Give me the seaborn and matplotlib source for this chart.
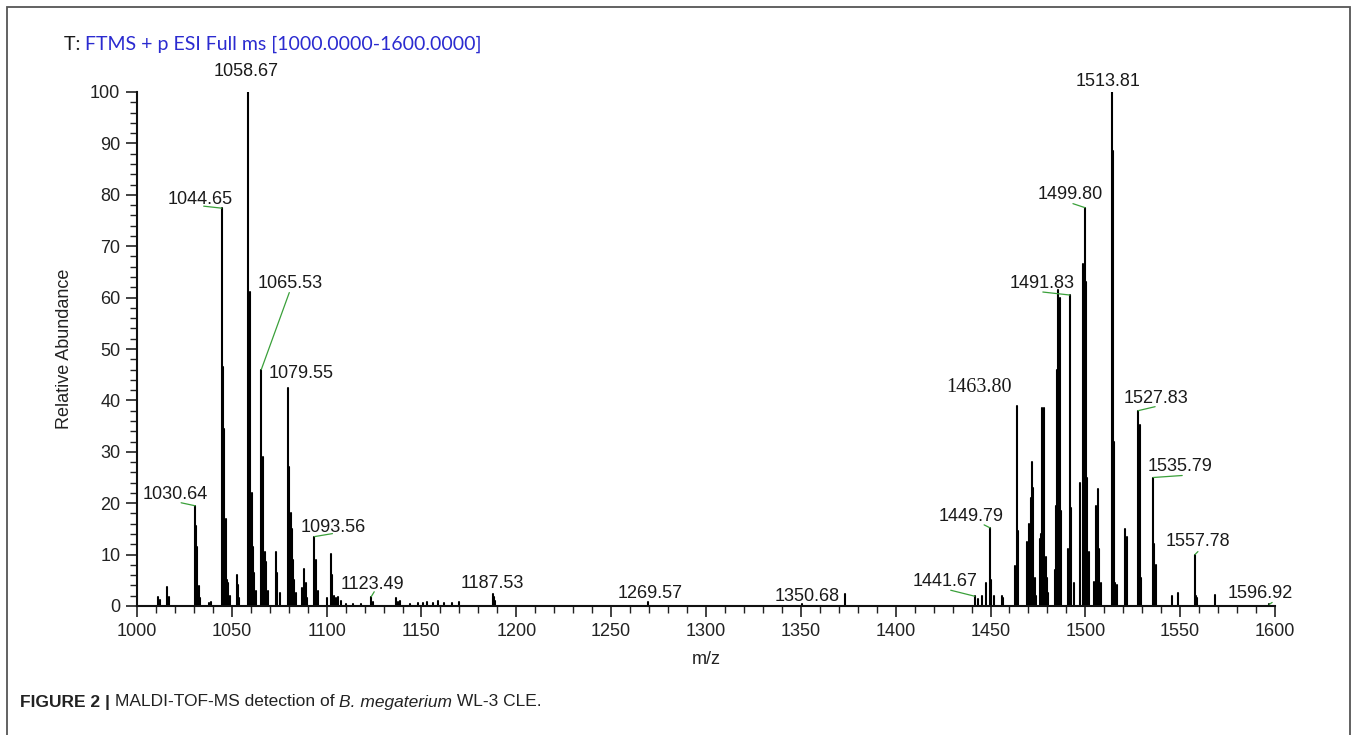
import numpy as np
import pandas as pd
import matplotlib
matplotlib.use("Agg")
import matplotlib.pyplot as plt
import seaborn as sns
from matplotlib.ticker import MultipleLocator
from matplotlib.patches import Rectangle

# ---------------- data ----------------
mz = [
    1011.2, 1012.1, 1016.0, 1017.1,
    1030.64, 1031.0, 1031.5, 1032.7, 1033.4, 1038.0, 1039.2,
    1044.65, 1045.3, 1046.0, 1046.7, 1047.2, 1048.1, 1048.8,
    1052.6, 1053.3, 1054.0,
    1058.67, 1059.7, 1060.4, 1061.1, 1061.8, 1062.5,
    1065.53, 1066.6, 1067.5, 1068.2, 1068.9,
    1073.4, 1073.9, 1075.5,
    1079.55, 1080.3, 1081.0, 1081.6, 1082.3, 1082.9, 1083.6,
    1087.0, 1088.3, 1089.0, 1089.8,
    1093.56, 1094.5, 1095.4,
    1100.0, 1102.4, 1103.0, 1104.0, 1105.0, 1106.0, 1107.3,
    1110.0, 1114.0, 1118.0, 1123.49, 1124.5,
    1136.5, 1137.5, 1138.5, 1144.0, 1148.0, 1151.0, 1153.0, 1156.0,
    1158.5, 1162.0, 1166.0, 1170.0,
    1187.53, 1188.2, 1189.0,
    1269.57, 1350.68, 1373.2,
    1441.67, 1443.2, 1445.6, 1447.6, 1449.79, 1450.5, 1452.0, 1455.8, 1456.8,
    1462.9, 1463.80, 1464.6,
    1469.2, 1470.3, 1471.2, 1472.0, 1472.6, 1473.3, 1474.0,
    1476.0, 1476.7, 1477.3, 1478.4, 1479.0, 1479.7, 1480.5,
    1483.8, 1484.6, 1485.1, 1485.7, 1486.5, 1487.3,
    1490.8, 1491.83, 1492.5, 1493.8,
    1497.4, 1498.7, 1499.80, 1500.4, 1501.0, 1501.8,
    1504.8, 1505.6, 1506.5, 1507.4, 1508.3,
    1513.81, 1514.4, 1515.1, 1515.9, 1516.7,
    1521.0, 1521.9,
    1527.83, 1528.6, 1529.3,
    1535.79, 1536.4, 1537.0,
    1545.8, 1549.1,
    1557.78, 1558.4, 1558.9,
    1568.4, 1596.92,
]
abundance = [
    1.7, 1.2, 3.6, 1.8,
    19.5, 15.5, 11.5, 3.8, 1.5, 0.6, 0.8,
    77.4, 46.5, 34.5, 17.0, 5.0, 4.5, 2.0,
    6.0, 4.0, 1.5,
    100.0, 61.0, 22.0, 11.5, 6.5, 3.0,
    46.0, 29.0, 10.5, 8.5, 3.0,
    10.5, 6.5, 2.5,
    42.5, 27.0, 18.0, 15.0, 9.0, 5.0, 2.5,
    3.5, 7.2, 4.5, 1.5,
    13.5, 9.0, 3.0,
    1.5, 10.2, 6.0, 2.0, 1.6, 1.8, 1.0,
    0.4, 0.3, 0.3, 1.8, 0.8,
    1.5, 0.8, 1.0, 0.4, 0.5, 0.6, 0.7, 0.5,
    1.0, 0.5, 0.6, 0.7,
    2.4, 1.8, 1.0,
    0.7, 0.3, 2.4,
    1.9, 1.4, 1.9, 4.5, 15.2, 5.0, 2.0, 2.0, 1.5,
    7.8, 39.0, 14.5,
    12.5, 16.0, 21.0, 28.0, 23.0, 5.5, 2.0,
    13.0, 14.0, 38.5, 38.5, 9.5, 5.5, 2.5,
    7.0, 19.5, 46.0, 61.5, 60.0, 18.5,
    11.0, 60.5, 19.0, 4.5,
    24.0, 66.5, 77.5, 63.0, 25.0, 10.5,
    4.7, 19.5, 22.8, 11.0, 4.5,
    100.0, 88.5, 32.0, 4.5, 4.0,
    15.0, 13.5,
    38.0, 35.2, 5.5,
    25.0, 12.0, 8.0,
    1.9, 2.6,
    10.0, 2.0, 1.5,
    2.2, 0.3,
]
labels = ["1030.64", "1044.65", "1058.67", "1065.53", "1079.55", "1093.56",
          "1123.49", "1187.53", "1269.57", "1350.68", "1441.67", "1449.79",
          "1463.80", "1491.83", "1499.80", "1513.81", "1527.83", "1535.79",
          "1557.78", "1596.92"]
x_ticks = [1000, 1050, 1100, 1150, 1200, 1250, 1300, 1350, 1400, 1450, 1500, 1550, 1600]
y_ticks = [0, 10, 20, 30, 40, 50, 60, 70, 80, 90, 100]

# ---------------- style / layout ----------------
W, H = 1357, 735
sns.set_theme(style="ticks")
plt.rcParams["font.family"] = ["Liberation Sans", "DejaVu Sans"]

fig = plt.figure(figsize=(W / 100, H / 100), dpi=100)
fig.patch.set_facecolor("white")
ax = fig.add_axes([137 / W, 1 - 606 / H, (1275 - 137) / W, (606 - 92) / H])

n = len(mz)
df = pd.DataFrame({
    "mz": np.repeat(mz, 2),
    "ab": np.column_stack([np.zeros(n), np.asarray(abundance)]).ravel(),
    "peak": np.repeat(np.arange(n), 2),
})
sns.lineplot(data=df, x="mz", y="ab", units="peak", estimator=None, sort=False,
             color="black", lw=1.5, ax=ax, legend=False)

ax.set_xlim(1000, 1600)
ax.set_ylim(0, 100)
ax.set_xticks(x_ticks)
ax.set_yticks(y_ticks)
ax.xaxis.set_minor_locator(MultipleLocator(10))
ax.yaxis.set_minor_locator(MultipleLocator(2))
ax.tick_params(axis="both", which="major", length=8, width=1.2, labelsize=13,
               colors="#222222", pad=4)
ax.tick_params(axis="both", which="minor", length=5, width=1.0, colors="#222222")
for s in ["top", "right"]:
    ax.spines[s].set_visible(False)
for s in ["left", "bottom"]:
    ax.spines[s].set_linewidth(1.5)
    ax.spines[s].set_color("#111111")
ax.set_xlabel("m/z", fontsize=13, color="#222222", labelpad=8)
ax.set_ylabel("Relative Abundance", fontsize=13, color="#222222", labelpad=12)
ax.patch.set_alpha(0)

# label placement (pixel offsets of text centre / leader start from peak top)
label_style = {
    "1058.67": (-2, 20, None),
    "1044.65": (-21, 9, (-18, 2)),
    "1065.53": (29, 86, (28, 77)),
    "1079.55": (13, 14, None),
    "1030.64": (-20, 11, (-14, 3)),
    "1093.56": (19, 9, (18, 3)),
    "1123.49": (1, 12, (3, 5)),
    "1187.53": (0, 10, None),
    "1269.57": (2, 9, None),
    "1350.68": (5, 8, None),
    "1441.67": (-30, 15, (-24, 6)),
    "1449.79": (-19, 11, (-6, 3)),
    "1463.80": (-38, 18, None),
    "1491.83": (-28, 12, (-27, 3)),
    "1499.80": (-15, 13, (-12, 4)),
    "1513.81": (-3, 10, None),
    "1527.83": (18, 12, (17, 4)),
    "1535.79": (27, 11, (29, 2)),
    "1557.78": (3, 13, (3, 3)),
    "1596.92": (-9, 11, (3, 2)),
}
mz_arr = np.asarray(mz)
ab_arr = np.asarray(abundance)
for lab in labels:
    i = int(np.argmin(np.abs(mz_arr - float(lab))))
    xy = (mz_arr[i], ab_arr[i])
    dx, dy, lead = label_style[lab]
    fs = 14.5 if lab == "1463.80" else 13
    fam = ["Liberation Serif", "DejaVu Serif"] if lab == "1463.80" else ["Liberation Sans", "DejaVu Sans"]
    if lead is not None:
        ax.annotate("", xy=xy, xytext=lead, textcoords="offset pixels",
                    arrowprops=dict(arrowstyle="-", color="#3aa03a", lw=0.9,
                                    shrinkA=0, shrinkB=0))
    ax.annotate(lab, xy=xy, xytext=(dx, dy), textcoords="offset pixels",
                ha="center", va="center", fontsize=fs, color="#1a1a1a",
                family=fam, annotation_clip=False)

# header (instrument scan filter)
t1 = fig.text(64 / W, 1 - 44 / H, "T: ", fontsize=14, color="#1a1a1a",
              family=["Lato", "DejaVu Sans"], va="center", ha="left")
ax.annotate("FTMS + p ESI Full ms [1000.0000-1600.0000]", xy=(1, 0.5), xycoords=t1,
            va="center", ha="left", fontsize=14, color="#2b2bd0",
            family=["Lato", "DejaVu Sans"], annotation_clip=False)

# caption
cap_fam = ["Liberation Sans Narrow", "Liberation Sans", "DejaVu Sans"]
c1 = fig.text(20 / W, 1 - 702 / H, "FIGURE 2 | ", fontsize=12.5, fontweight="bold",
              color="#222222", family=cap_fam, va="center", ha="left")
c2 = ax.annotate("MALDI-TOF-MS detection of ", xy=(1, 0.5), xycoords=c1, va="center",
                 ha="left", fontsize=12.5, color="#222222", family=cap_fam,
                 annotation_clip=False)
c3 = ax.annotate("B. megaterium", xy=(1, 0.5), xycoords=c2, va="center", ha="left",
                 fontsize=12.5, style="italic", color="#222222", family=cap_fam,
                 annotation_clip=False)
ax.annotate(" WL-3 CLE.", xy=(1, 0.5), xycoords=c3, va="center", ha="left",
            fontsize=12.5, color="#222222", family=cap_fam, annotation_clip=False)

# outer frame of the figure panel
fig.patches.append(Rectangle((7 / W, -0.02), (1350 - 7) / W, 1 - 7 / H + 0.02,
                             transform=fig.transFigure, fill=False,
                             edgecolor="#555555", lw=1.3))

fig.savefig("out.png", dpi=100)
